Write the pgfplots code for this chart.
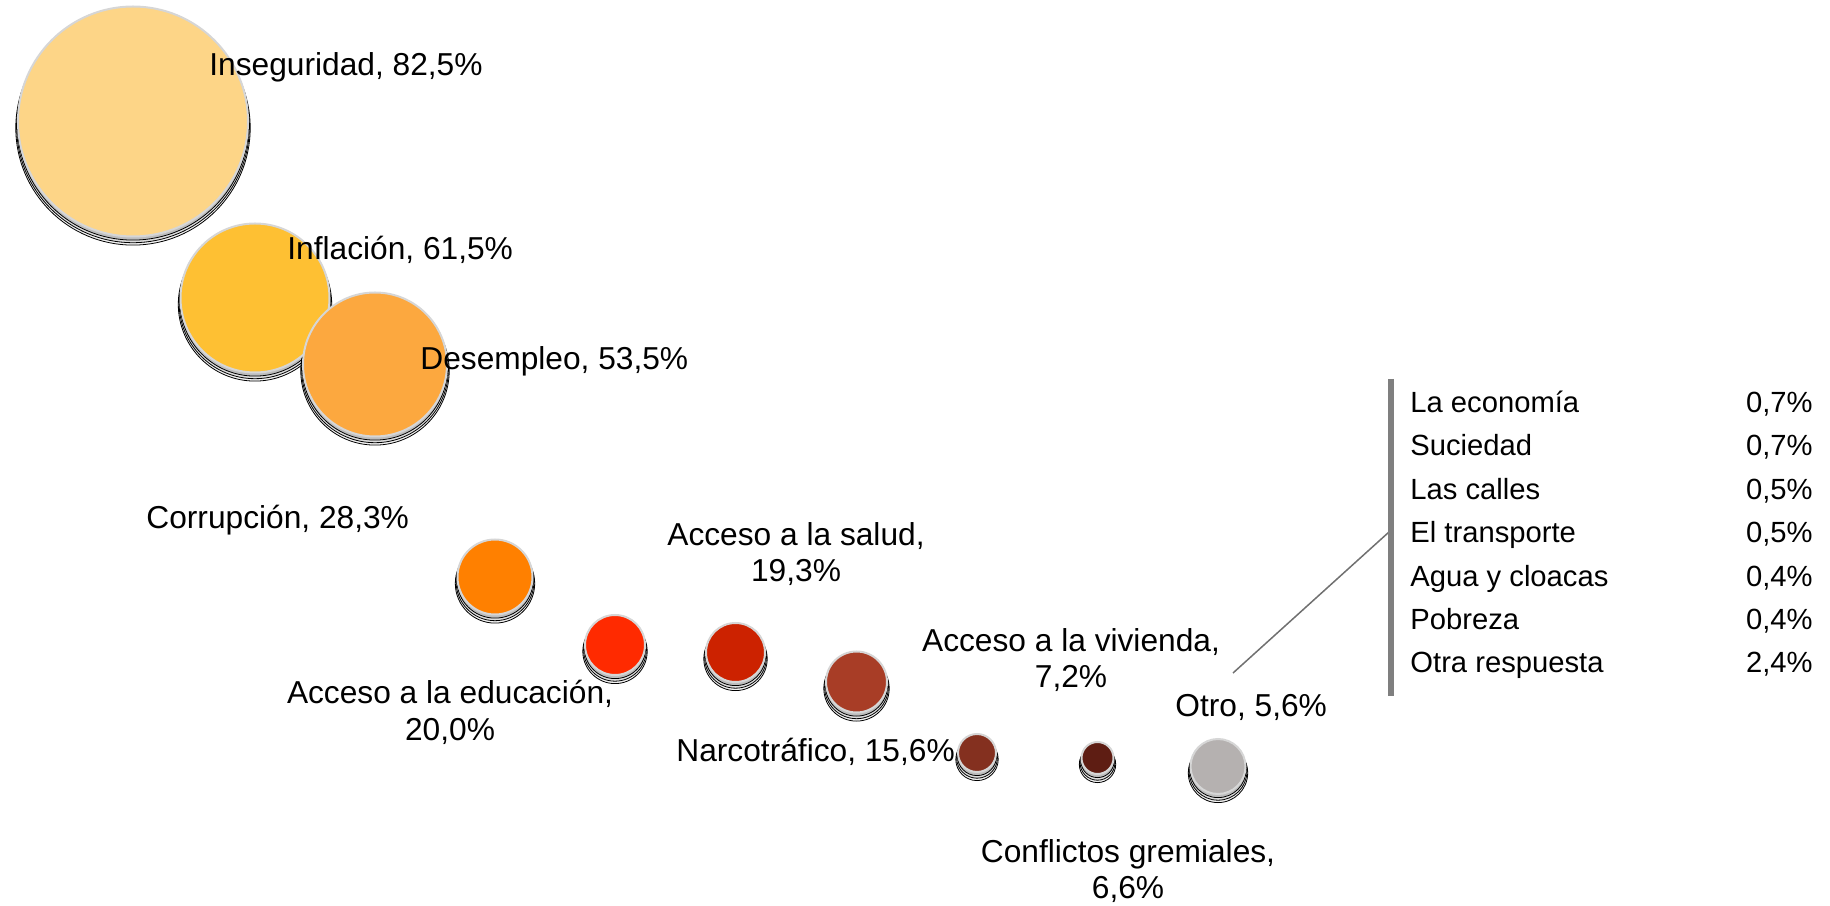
\documentclass[border=0pt]{standalone}
\usepackage{fontspec}
\setmainfont{Liberation Sans}
\usepackage{pgfplots}
\usepackage{pgfplotstable}
\pgfplotsset{compat=1.18}
\definecolor{cA}{HTML}{FDD587}
\definecolor{cB}{HTML}{FEC033}
\definecolor{cC}{HTML}{FCA83F}
\definecolor{cD}{HTML}{FF8000}
\definecolor{cE}{HTML}{FF2A00}
\definecolor{cF}{HTML}{CC2200}
\definecolor{cG}{HTML}{A83D26}
\definecolor{cH}{HTML}{84301F}
\definecolor{cI}{HTML}{5E1D13}
\definecolor{cJ}{HTML}{B5B1B0}
\definecolor{bord}{HTML}{D6D6D6}
\definecolor{barg}{HTML}{7F7F7F}
\definecolor{lineg}{HTML}{707070}
\newcommand{\lab}{\fontsize{15.85}{19}\selectfont}
\newcommand{\tab}{\fontsize{14.6}{17.5}\selectfont}
% bubbles: x, y (pixel grid, y downwards), radius (px), colour class
\pgfplotstableread{
x y r c
133 121.5 116 cA
255 298 75.5 cB
375 364.5 73 cC
495 577 38.5 cD
615 645 31 cE
735.5 652.5 30.5 cF
856.5 682 31.5 cG
977 753 20 cH
1097.5 758 17 cI
1218 766.5 28.5 cJ
}\bubbles
\begin{document}
\begin{tikzpicture}
\begin{axis}[
  set layers,
  width=915pt, height=452.5pt, scale only axis,
  xmin=0, xmax=1830, ymin=0, ymax=905, y dir=reverse,
  hide axis, clip=false,
]
\path (axis cs:0,0) rectangle (axis cs:1830,905);
% soft shadow (three faint layers)
\addplot[scatter, only marks, mark=*,
  visualization depends on={\thisrow{r} \as \rad},
  scatter/use mapped color={draw=none, fill=black, fill opacity=0.05},
  scatter/@pre marker code/.append style={/tikz/mark size=0.5*\rad pt+0.6pt, /tikz/yshift=-3.2pt},
] table[x=x, y=y] {\bubbles};
\addplot[scatter, only marks, mark=*,
  visualization depends on={\thisrow{r} \as \rad},
  scatter/use mapped color={draw=none, fill=black, fill opacity=0.09},
  scatter/@pre marker code/.append style={/tikz/mark size=0.5*\rad pt+0.2pt, /tikz/yshift=-2.4pt},
] table[x=x, y=y] {\bubbles};
\addplot[scatter, only marks, mark=*,
  visualization depends on={\thisrow{r} \as \rad},
  scatter/use mapped color={draw=none, fill=black, fill opacity=0.14},
  scatter/@pre marker code/.append style={/tikz/mark size=0.5*\rad pt-0.2pt, /tikz/yshift=-1.5pt},
] table[x=x, y=y] {\bubbles};
% bubbles
\addplot[scatter, only marks, mark=*,
  point meta=explicit symbolic,
  scatter/classes={
    cA={draw=bord, fill=cA, line width=1pt},
    cB={draw=bord, fill=cB, line width=1pt},
    cC={draw=bord, fill=cC, line width=1pt},
    cD={draw=bord, fill=cD, line width=1pt},
    cE={draw=bord, fill=cE, line width=1pt},
    cF={draw=bord, fill=cF, line width=1pt},
    cG={draw=bord, fill=cG, line width=1pt},
    cH={draw=bord, fill=cH, line width=1pt},
    cI={draw=bord, fill=cI, line width=1pt},
    cJ={draw=bord, fill=cJ, line width=1pt}},
  visualization depends on={\thisrow{r} \as \rad},
  scatter/@pre marker code/.append style={/tikz/mark size=0.5*\rad pt-0.5pt},
] table[x=x, y=y, meta=c] {\bubbles};
% connector and bracket
\addplot[lineg, line width=0.75pt, no marks] coordinates {(1233,673) (1389,532)};
\addplot[barg, line width=3pt, no marks] coordinates {(1391,379) (1391,696)};
% labels
\begin{pgfonlayer}{axis foreground}
\begin{scope}[every node/.style={inner sep=0pt, font=\lab}]
\node[anchor=base west] at (axis cs:209,76) {Inseguridad, 82,5\%};
\node[anchor=base west] at (axis cs:287,260) {Inflación, 61,5\%};
\node[anchor=base west] at (axis cs:420,370) {Desempleo, 53,5\%};
\node[anchor=base west] at (axis cs:146,529) {Corrupción, 28,3\%};
\node[anchor=base] at (axis cs:796,546) {Acceso a la salud,};
\node[anchor=base] at (axis cs:796,582) {19,3\%};
\node[anchor=base] at (axis cs:450,704) {Acceso a la educación,};
\node[anchor=base] at (axis cs:450,741) {20,0\%};
\node[anchor=base west] at (axis cs:676,761) {Narcotráfico, 15,6\%};
\node[anchor=base] at (axis cs:1071,652) {Acceso a la vivienda,};
\node[anchor=base] at (axis cs:1071,688) {7,2\%};
\node[anchor=base west] at (axis cs:1175,717) {Otro, 5,6\%};
\node[anchor=base] at (axis cs:1128,862) {Conflictos gremiales,};
\node[anchor=base] at (axis cs:1128,898) {6,6\%};
\end{scope}
\begin{scope}[every node/.style={inner sep=0pt, font=\tab}]
\node[anchor=base west] at (axis cs:1410,413) {La economía};
\node[anchor=base east] at (axis cs:1813,413) {0,7\%};
\node[anchor=base west] at (axis cs:1410,456) {Suciedad};
\node[anchor=base east] at (axis cs:1813,456) {0,7\%};
\node[anchor=base west] at (axis cs:1410,500) {Las calles};
\node[anchor=base east] at (axis cs:1813,500) {0,5\%};
\node[anchor=base west] at (axis cs:1410,543) {El transporte};
\node[anchor=base east] at (axis cs:1813,543) {0,5\%};
\node[anchor=base west] at (axis cs:1410,587) {Agua y cloacas};
\node[anchor=base east] at (axis cs:1813,587) {0,4\%};
\node[anchor=base west] at (axis cs:1410,630) {Pobreza};
\node[anchor=base east] at (axis cs:1813,630) {0,4\%};
\node[anchor=base west] at (axis cs:1410,673) {Otra respuesta};
\node[anchor=base east] at (axis cs:1813,673) {2,4\%};
\end{scope}
\end{pgfonlayer}
\end{axis}
\end{tikzpicture}
\end{document}
